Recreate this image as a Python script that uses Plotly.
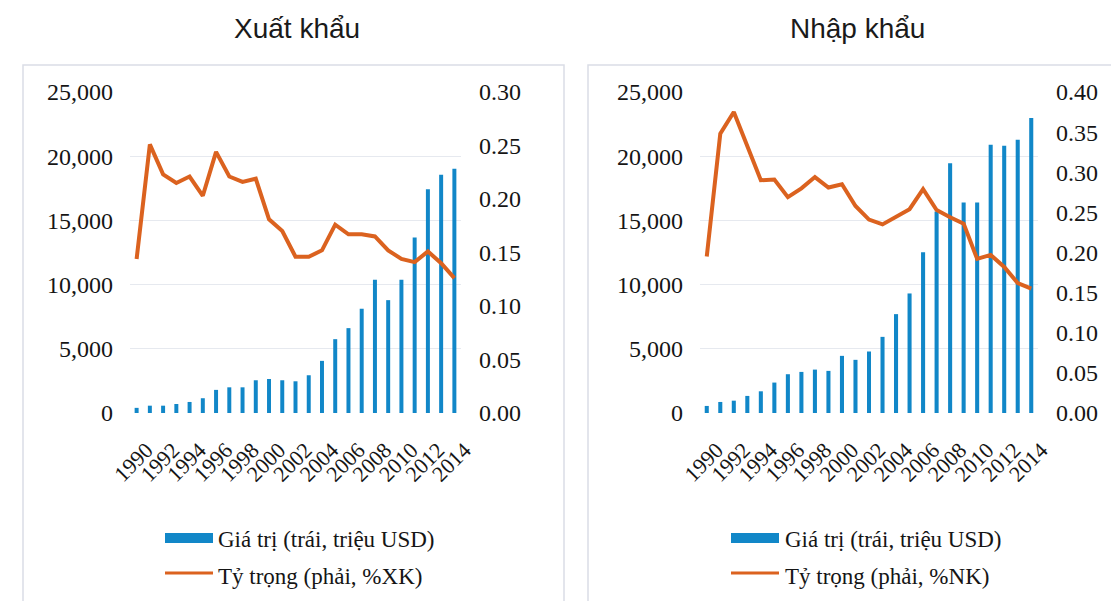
import plotly.graph_objects as go

years = list(range(1990, 2015))
year_ticks = list(range(1990, 2015, 2))

export_value = [400, 570, 570, 700, 860, 1150, 1800, 2000, 2000, 2550, 2650, 2550, 2470,
                2940, 4060, 5750, 6610, 8120, 10380, 8790, 10380, 13660, 17430, 18550, 19020]
export_share = [0.144, 0.251, 0.223, 0.215, 0.221, 0.203, 0.244, 0.221, 0.216, 0.219, 0.181,
                0.170, 0.146, 0.146, 0.152, 0.176, 0.167, 0.167, 0.165, 0.152, 0.144, 0.141,
                0.151, 0.140, 0.126]

import_value = [550, 860, 960, 1330, 1690, 2370, 3020, 3200, 3380, 3280, 4450, 4140, 4790,
                5930, 7700, 9310, 12510, 15690, 19460, 16390, 16390, 20890, 20810, 21280, 22970]
import_share = [0.195, 0.348, 0.375, 0.334, 0.290, 0.291, 0.269, 0.280, 0.294, 0.281, 0.285,
                0.258, 0.241, 0.235, 0.245, 0.254, 0.279, 0.253, 0.244, 0.236, 0.192, 0.197,
                0.182, 0.162, 0.155]

titles = ["Xuất khẩu", "Nhập khẩu"]
legend_value = "Giá trị (trái, triệu USD)"
legend_share = ["Tỷ trọng (phải, %XK)", "Tỷ trọng (phải, %NK)"]

W, H = 1111, 601
BLUE = "#1187C8"
ORANGE = "#DB621F"
GRID = "#E6E9EF"
SERIF = "Liberation Serif, Times New Roman, serif"
SANS = "Liberation Sans, Arial, sans-serif"


def px(x):
    return x / W


def py(y):
    return 1 - y / H


fig = go.Figure()

fig.add_trace(go.Bar(x=years, y=export_value, width=0.3, marker_color=BLUE,
                     marker_line_width=0, xaxis="x", yaxis="y", showlegend=False))
fig.add_trace(go.Scatter(x=years, y=export_share, mode="lines",
                         line=dict(color=ORANGE, width=4), xaxis="x", yaxis="y2",
                         showlegend=False))
fig.add_trace(go.Bar(x=years, y=import_value, width=0.3, marker_color=BLUE,
                     marker_line_width=0, xaxis="x2", yaxis="y3", showlegend=False))
fig.add_trace(go.Scatter(x=years, y=import_share, mode="lines",
                         line=dict(color=ORANGE, width=4), xaxis="x2", yaxis="y4",
                         showlegend=False))

ydom = [py(413), py(92)]
tickfont = dict(family=SERIF, size=24, color="#151515")
xfont = dict(family=SERIF, size=22, color="#151515")

common_x = dict(range=[1989.5, 2014.5], tickmode="array", tickvals=year_ticks,
                tickangle=-45, showgrid=False, zeroline=False, showline=False,
                tickfont=xfont, ticklabelstandoff=19, ticklabelshift=10, automargin=False)
left_y = dict(range=[0, 25000], dtick=5000, tickformat=",", showgrid=True,
              gridcolor=GRID, gridwidth=1, zeroline=False, showline=False,
              tickfont=tickfont, ticklabelstandoff=16, automargin=False)
right_y = dict(dtick=0.05, tickformat=".2f", showgrid=False, zeroline=False,
               showline=False, tickfont=tickfont, ticklabelstandoff=17, side="right",
               automargin=False)

fig.update_layout(
    width=W, height=H, autosize=False,
    margin=dict(l=0, r=0, t=0, b=0, pad=0, autoexpand=False),
    paper_bgcolor="white", plot_bgcolor="white",
    bargap=0.7,
    xaxis=dict(domain=[px(130), px(461)], anchor="y", **common_x),
    yaxis=dict(domain=ydom, anchor="x", **left_y),
    yaxis2=dict(overlaying="y", anchor="x", range=[0, 0.30], **right_y),
    xaxis2=dict(domain=[px(700), px(1038)], anchor="y3", **common_x),
    yaxis3=dict(domain=ydom, anchor="x2", **left_y),
    yaxis4=dict(overlaying="y3", anchor="x2", range=[0, 0.40], **right_y),
)

shapes = []
annotations = []

# panel frames
for x0, x1 in [(23, 564), (588, 1125)]:
    shapes.append(dict(type="rect", xref="paper", yref="paper",
                       x0=px(x0), x1=px(x1), y0=py(640), y1=py(65),
                       line=dict(color="#DADDE6", width=1.5), fillcolor="rgba(0,0,0,0)",
                       layer="below"))

# titles
for cx, t in zip([297, 857], titles):
    annotations.append(dict(xref="paper", yref="paper", x=px(cx), y=py(29), text=t,
                            showarrow=False, xanchor="center", yanchor="middle",
                            font=dict(family=SANS, size=28, color="#1a1a1a")))

# legends
for (sx, tx), lbl in zip([(165, 216), (731, 783)], legend_share):
    shapes.append(dict(type="rect", xref="paper", yref="paper",
                       x0=px(sx), x1=px(sx + 48), y0=py(543), y1=py(533),
                       line=dict(width=0), fillcolor=BLUE))
    shapes.append(dict(type="line", xref="paper", yref="paper",
                       x0=px(sx), x1=px(sx + 48), y0=py(573), y1=py(573),
                       line=dict(color=ORANGE, width=3)))
    annotations.append(dict(xref="paper", yref="paper", x=px(tx), y=py(539),
                            text=legend_value, showarrow=False, xanchor="left",
                            yanchor="middle",
                            font=dict(family=SERIF, size=23, color="#151515")))
    annotations.append(dict(xref="paper", yref="paper", x=px(tx), y=py(576),
                            text=lbl, showarrow=False, xanchor="left",
                            yanchor="middle",
                            font=dict(family=SERIF, size=23, color="#151515")))

fig.update_layout(shapes=shapes, annotations=annotations)

fig.write_html("out.html", config={"displayModeBar": False},
               post_script="document.body.style.margin='0';document.body.style.overflow='hidden';")
